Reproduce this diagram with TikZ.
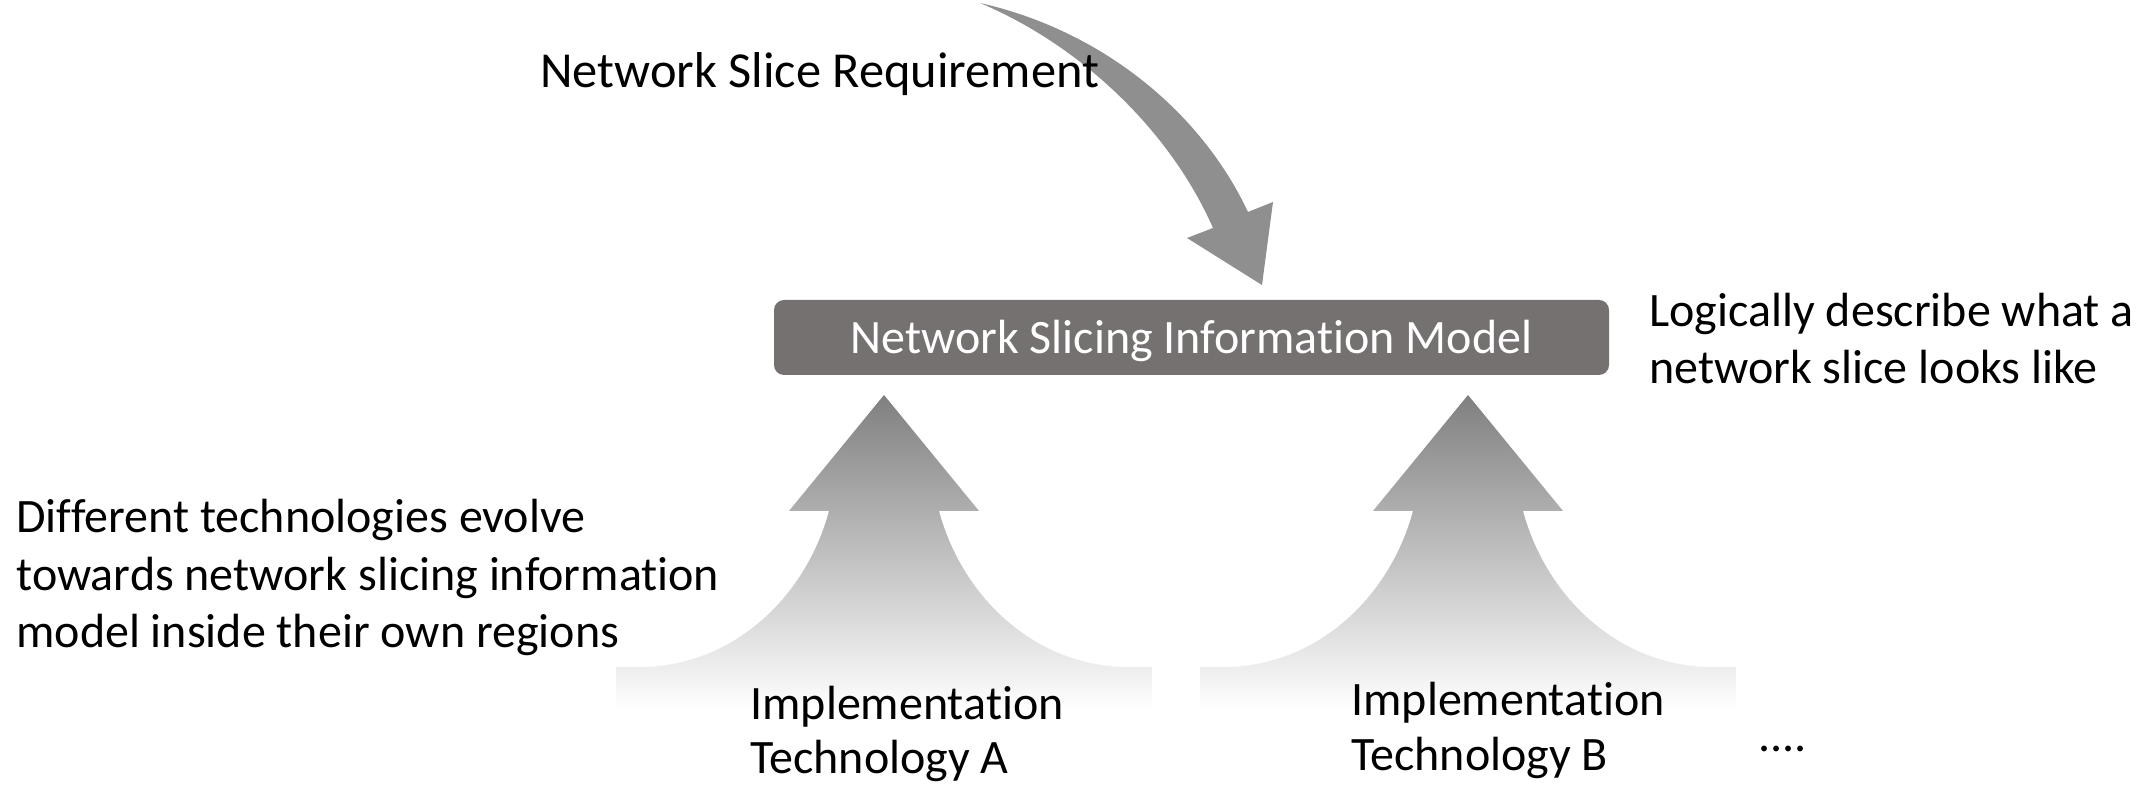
\documentclass[tikz,border=0pt]{standalone}
\usepackage{fontspec}
\setmainfont{Carlito}[RawFeature={-liga;-clig;-dlig;-calt;-rlig}]
\definecolor{modelgray}{HTML}{767171}
\definecolor{reqgray}{HTML}{8F8F8F}
\begin{document}
\begin{tikzpicture}[x=0.5pt,y=-0.5pt,
  txt/.style={font=\fontsize{24}{28.8}\selectfont, inner sep=0pt, anchor=base west},
  modelbox/.style={fill=modelgray, rounded corners=5pt, text=white,
    font=\fontsize{24}{28.8}\selectfont, minimum width=417.5pt, minimum height=37.5pt,
    inner sep=0pt, text height=16.5pt, text depth=0pt},
  upshade/.style={top color=black!50, bottom color=white, draw=none},
  evolve/.pic={
    \shade[upshade] (0,0) -- (95,116) -- (55,116)
      .. controls (79,205) and (154,272) .. (244,272) -- (268,272)
      -- (268,315) -- (-268,315) -- (-268,272) -- (-244,272)
      .. controls (-154,272) and (-79,205) .. (-55,116) -- (-95,116) -- cycle;
  }]
\useasboundingbox (0,0) rectangle (2149,785);
\fill[white] (0,0) rectangle (2149,785);

% evolving technologies (drawn first, labels sit on top of the fade)
\pic at (884,395) {evolve};
\pic at (1468,395) {evolve};

% central model
\node[modelbox] (model) at (1191.5,337.5) {Network Slicing Information Model};

% requirement arrow coming down onto the model
\coordinate (reqtail) at (980,3);
\coordinate (reqtip) at (1262,285);
\fill[reqgray] (reqtail) .. controls (1100,30) and (1200,110) .. (1248,212)
  -- (1273,202) -- (reqtip) -- (1187,238) -- (1213,228)
  .. controls (1170,130) and (1080,45) .. (reqtail) -- cycle;

% labels
\node[txt, font=\fontsize{25.2}{30}\selectfont] (req) at (540,88) {Network Slice Requirement};
\node[txt] (desc1) at (1649,327) {Logically describe what a};
\node[txt] (desc2) at (1649,384) {network slice looks like};
\node[txt] (evo1) at (16,533) {Different technologies evolve};
\node[txt] (evo2) at (16,591) {towards network slicing information};
\node[txt] (evo3) at (16,648) {model inside their own regions};
\node[txt] (techA1) at (750,720) {Implementation};
\node[txt] (techA2) at (750,774) {Technology A};
\node[txt] (techB1) at (1351,716) {Implementation};
\node[txt] (techB2) at (1351,771) {Technology B};
\node[txt] (more) at (1758,752) {....};
\end{tikzpicture}
\end{document}
